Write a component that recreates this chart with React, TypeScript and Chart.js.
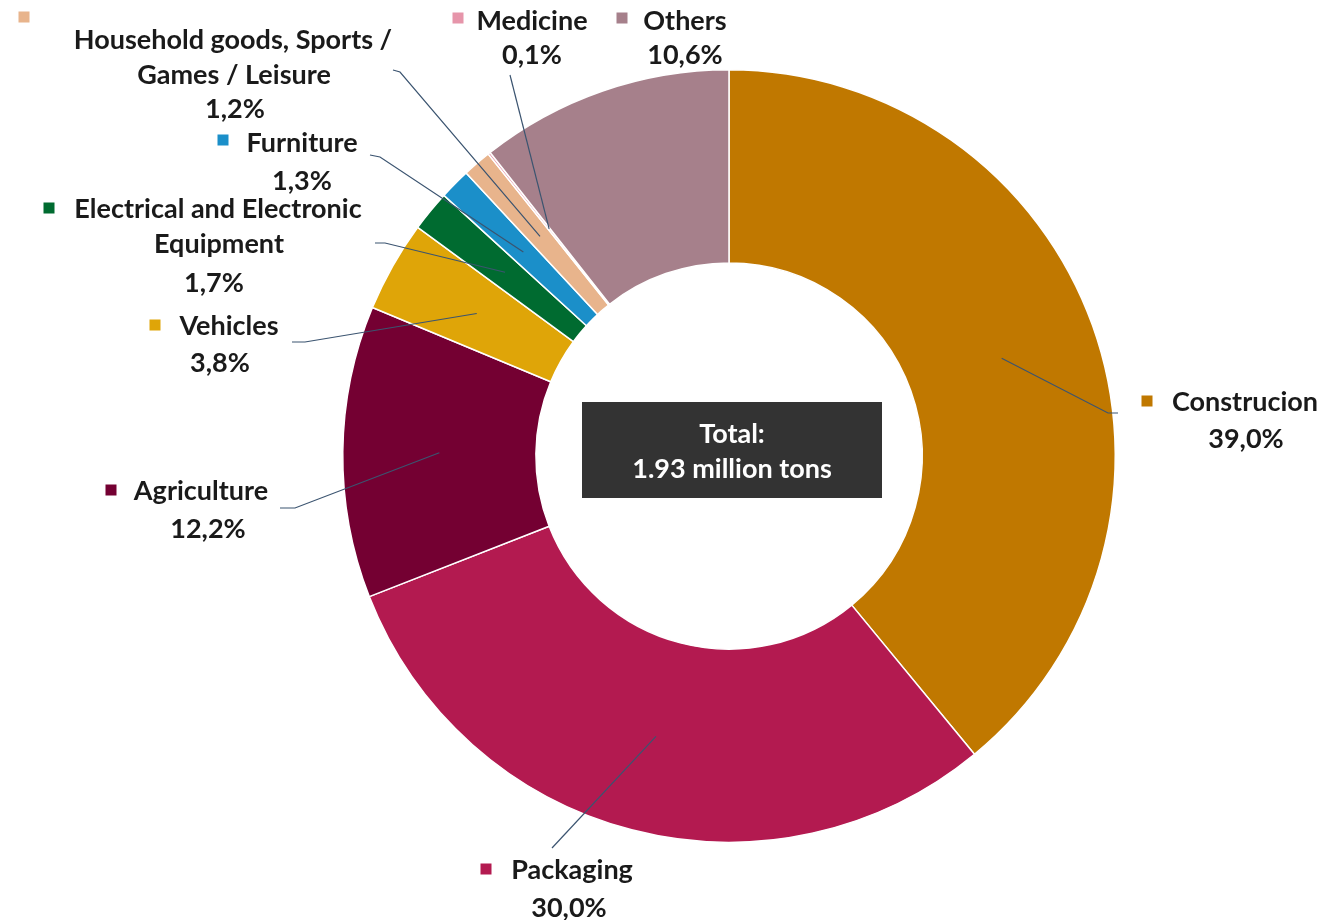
import React, { useEffect, useRef } from "react";
import { Chart, registerables } from "chart.js";

Chart.register(...registerables);

// ---- data ----
const categories = [
  "Construcion",
  "Packaging",
  "Agriculture",
  "Vehicles",
  "Electrical and Electronic Equipment",
  "Furniture",
  "Household goods, Sports / Games / Leisure",
  "Medicine",
  "Others",
];
const shares = [39.0, 30.0, 12.2, 3.8, 1.7, 1.3, 1.2, 0.1, 10.6];
const colors = [
  "#C07800",
  "#B31A50",
  "#740032",
  "#DFA508",
  "#006B30",
  "#1B8FC9",
  "#E8B48C",
  "#E695AA",
  "#A6808B",
];
// wrapped label text (name lines)
const labelLines = [
  ["Construcion"],
  ["Packaging"],
  ["Agriculture"],
  ["Vehicles"],
  ["Electrical and Electronic", "Equipment"],
  ["Furniture"],
  ["Household goods, Sports /", "Games / Leisure"],
  ["Medicine"],
  ["Others"],
];
const centerLines = ["Total:", "1.93 million tons"];

// ---- layout (pixels on the canvas) ----
type LabelLayout = {
  sq: [number, number];
  lines: [number, number][];
  leader: [number, number][] | null;
};
const labelLayout: LabelLayout[] = [
  { sq: [1147, 401], lines: [[1245, 401], [1246, 438]], leader: [[1108, 413], [1118, 413]] },
  { sq: [486, 869], lines: [[572, 869], [569, 907]], leader: [[552, 848]] },
  { sq: [111, 490], lines: [[201, 490], [208, 528]], leader: [[295, 508], [280, 508]] },
  { sq: [155, 325], lines: [[229, 325], [220, 362]], leader: [[305, 342], [292, 342]] },
  { sq: [49, 208], lines: [[218, 208], [219, 243], [214, 282]], leader: [[385, 243], [375, 243]] },
  { sq: [223, 140], lines: [[302, 142], [302, 180]], leader: [[380, 157], [370, 155]] },
  { sq: [24, 17], lines: [[233, 39], [234, 74], [235, 108]], leader: [[400, 72], [393, 70]] },
  { sq: [458, 18], lines: [[532, 20], [532, 54]], leader: [[510, 75]] },
  { sq: [622, 18], lines: [[685, 20], [685, 54]], leader: null },
];
const centerBox = { x: 582, y: 402, w: 300, h: 96, lineY: [433, 468], cx: 732 };

const FONT = "bold 27px Lato, 'Open Sans', sans-serif";
const TEXT_COLOR = "#1A1A1A";
const LEADER_COLOR = "#3B5470";
const SQ = 11;

const fmt = (v: number) => v.toFixed(1).replace(".", ",") + "%";

const labelPlugin = {
  id: "outerLabels",
  afterDatasetsDraw(chart: any) {
    const ctx: CanvasRenderingContext2D = chart.ctx;
    const meta = chart.getDatasetMeta(0);
    ctx.save();
    // leader lines
    meta.data.forEach((arc: any, i: number) => {
      const lay = labelLayout[i];
      if (!lay || !lay.leader) return;
      const p = arc.getProps(["x", "y", "startAngle", "endAngle", "innerRadius", "outerRadius"], true);
      const a = (p.startAngle + p.endAngle) / 2;
      const r = (p.innerRadius + p.outerRadius) / 2;
      ctx.beginPath();
      ctx.moveTo(p.x + Math.cos(a) * r, p.y + Math.sin(a) * r);
      lay.leader.forEach(([x, y]) => ctx.lineTo(x, y));
      ctx.strokeStyle = LEADER_COLOR;
      ctx.lineWidth = 1.2;
      ctx.stroke();
    });
    // labels
    ctx.font = FONT;
    ctx.textBaseline = "alphabetic";
    ctx.textAlign = "center";
    labelLayout.forEach((lay, i) => {
      const texts = [...labelLines[i], fmt(shares[i])];
      ctx.fillStyle = colors[i];
      ctx.fillRect(lay.sq[0] - SQ / 2, lay.sq[1] - SQ / 2, SQ, SQ);
      ctx.fillStyle = TEXT_COLOR;
      texts.forEach((t, j) => {
        const [x, y] = lay.lines[j];
        ctx.fillText(t, x, y + 10);
      });
    });
    // center box
    ctx.fillStyle = "#333333";
    ctx.fillRect(centerBox.x, centerBox.y, centerBox.w, centerBox.h);
    ctx.fillStyle = "#FFFFFF";
    centerLines.forEach((t, j) => ctx.fillText(t, centerBox.cx, centerBox.lineY[j] + 10));
    ctx.restore();
  },
};

export default function App() {
  const ref = useRef<HTMLCanvasElement>(null);
  useEffect(() => {
    if (!ref.current) return;
    const chart = new Chart(ref.current, {
      type: "doughnut",
      data: {
        labels: categories,
        datasets: [
          {
            data: shares,
            backgroundColor: colors,
            borderColor: "#FFFFFF",
            borderWidth: 1.5,
            hoverOffset: 0,
            offset: 0,
          },
        ],
      },
      options: {
        responsive: false,
        animation: false,
        cutout: "50%",
        rotation: 0,
        layout: { padding: { left: 342, top: 69, right: 204, bottom: 77 } },
        plugins: { legend: { display: false }, tooltip: { enabled: false } },
      },
      plugins: [labelPlugin],
    });
    return () => chart.destroy();
  }, []);
  return (
    <div style={{ position: "fixed", left: 0, top: 0, width: 1320, height: 920, background: "#fff" }}>
      <canvas ref={ref} width={1320} height={920} style={{ width: 1320, height: 920 }} />
    </div>
  );
}
